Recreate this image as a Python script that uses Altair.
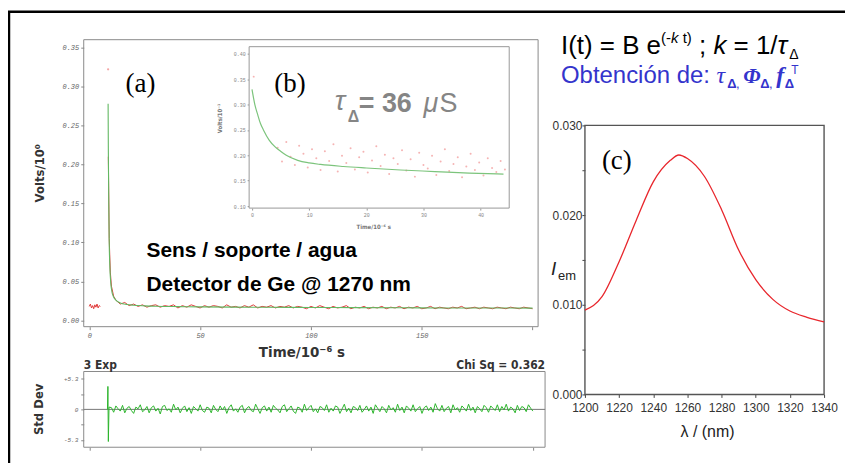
import altair as alt
import pandas as pd

W, H = 840, 455


def X(px):
    return px - 8


def Y(py):
    return py - 8


# ---------------- data ----------------
# (a) decay trace (experimental, red) and fit (green)
A_PRE_T = [0, 0.5, 1, 1.5, 2, 2.5, 3, 3.5, 4, 4.5, 5]
A_PRE_V = [0.018, 0.021, 0.016, 0.019, 0.015, 0.020, 0.017, 0.021, 0.016, 0.019, 0.018]
A_DOT_T = [8.5]
A_DOT_V = [0.322]
A_SPIKE_T = [8.6, 9.0, 9.5, 10, 11]
A_SPIKE_V = [0.21, 0.105, 0.062, 0.044, 0.031]
A_TAIL_T = list(range(12, 201, 2))
A_TAIL_V = [
    0.026, 0.021, 0.023, 0.019, 0.021, 0.018, 0.020, 0.017, 0.019, 0.020,
    0.017, 0.019, 0.018, 0.020, 0.016, 0.019, 0.017, 0.020, 0.018, 0.016,
    0.019, 0.017, 0.019, 0.018, 0.016, 0.020, 0.017, 0.018, 0.016, 0.019,
    0.017, 0.020, 0.016, 0.018, 0.017, 0.019, 0.016, 0.018, 0.017, 0.019,
    0.016, 0.018, 0.017, 0.015, 0.018, 0.016, 0.019, 0.017, 0.015, 0.018,
    0.016, 0.017, 0.019, 0.015, 0.017, 0.016, 0.018, 0.015, 0.017, 0.016,
    0.018, 0.015, 0.017, 0.016, 0.018, 0.015, 0.017, 0.016, 0.018, 0.015,
    0.016, 0.018, 0.015, 0.017, 0.016, 0.015, 0.017, 0.016, 0.018, 0.015,
    0.016, 0.017, 0.015, 0.017, 0.016, 0.015, 0.017, 0.016, 0.015, 0.017,
    0.016, 0.015, 0.017, 0.016, 0.015,
]
A_FIT_T = [8.5, 8.6, 8.8, 9.0, 9.3, 9.7, 10.2, 11, 12, 14, 17, 20, 25, 30,
           40, 50, 65, 80, 100, 120, 140, 160, 180, 200]
A_FIT_V = [0.278, 0.22, 0.15, 0.10, 0.068, 0.048, 0.037, 0.030, 0.026, 0.0225,
           0.0205, 0.0195, 0.0187, 0.0182, 0.0177, 0.0174, 0.0171, 0.0169,
           0.0166, 0.0164, 0.0162, 0.0160, 0.0159, 0.0158]

# residuals (Std Dev)
RES_SPIKE_T = [8.2, 8.4, 8.6, 8.9]
RES_SPIKE_V = [0.0, 4.0, -5.6, 0.4]
RES_T = list(range(10, 201, 1))
RES_V = [
    0.3, -0.5, 0.6, 0.1, -0.3, 0.7, -0.6, 0.2, 0.5, -0.2,
    -0.7, 0.4, 0.1, 0.8, -0.4, -0.1, 0.5, -0.6, 0.3, 0.6,
    -0.3, 0.2, -0.8, 0.5, 0.7, -0.2, 0.1, -0.5, 0.9, -0.1,
    0.4, -0.6, 0.2, 0.6, -0.4, 0.3, -0.7, 0.5, 0.1, -0.3,
    0.8, -0.2, -0.5, 0.4, 0.2, -0.6, 0.7, 0.0, -0.4, 0.6,
    -0.1, 0.5, -0.7, 0.3, 0.8, -0.3, 0.1, -0.5, 0.4, 0.7,
    -0.6, 0.2, 0.5, -0.2, -0.4, 0.9, 0.1, -0.7, 0.3, 0.6,
    -0.3, 0.4, -0.5, 0.7, 0.2, -0.1, -0.6, 0.5, 0.8, -0.4,
    0.1, 0.6, -0.3, -0.7, 0.4, 0.2, -0.5, 0.9, -0.2, 0.3,
    0.7, -0.4, 0.1, -0.6, 0.5, 0.3, -0.2, 0.8, -0.5, 0.2,
    -0.3, 0.6, 0.4, -0.7, 0.1, 0.9, -0.4, 0.2, -0.6, 0.5,
    0.3, -0.2, 0.7, -0.5, 0.0, 0.6, -0.3, 0.4, -0.7, 0.8,
    0.2, -0.4, 0.5, 0.1, -0.6, 0.7, -0.1, 0.3, -0.5, 0.9,
    -0.2, 0.4, -0.6, 0.6, 0.2, -0.3, 0.8, -0.4, 0.1, 0.5,
    -0.7, 0.3, 0.6, -0.2, 0.4, -0.5, 1.0, 0.1, -0.3, 0.7,
    -0.4, 0.2, 0.5, -0.6, 0.8, -0.1, 0.3, -0.5, 0.6, 0.2,
    -0.3, 0.9, -0.2, 0.4, -0.6, 0.5, 0.1, -0.4, 0.7, 0.3,
    -0.5, 0.6, 0.2, -0.2, 0.8, -0.4, 0.5, -0.1, 0.9, -0.3,
    0.4, 0.1, -0.6, 0.7, -0.2, 0.5, 0.3, -0.4, 0.8, 0.2,
    -0.3,
]

# (b) inset
B_FIT_T = [0, 0.5, 1, 1.5, 2, 3, 4, 5, 6, 8, 10, 12, 16, 20, 26, 32, 38, 44]
B_FIT_V = [0.33, 0.30, 0.28, 0.262, 0.25, 0.23, 0.217, 0.208, 0.20, 0.19,
           0.185, 0.182, 0.178, 0.175, 0.171, 0.168, 0.165, 0.163]
B_PTS_T = [0.3, 4.5, 5.25, 6, 6.75, 7.5, 8.25, 9, 9.75, 10.5, 11.25,
           12, 12.75, 13.5, 14.25, 15, 15.75, 16.5, 17.25, 18, 18.75,
           19.5, 20.25, 21, 21.75, 22.5, 23.25, 24, 24.75, 25.5, 26.25,
           27, 27.75, 28.5, 29.25, 30, 30.75, 31.5, 32.25, 33, 33.75,
           34.5, 35.25, 36, 36.75, 37.5, 38.25, 39, 39.75, 40.5, 41.25,
           42, 42.75, 43.5, 44.25]
B_PTS_V = [0.355,
           0.215, 0.188, 0.226, 0.197, 0.181, 0.219, 0.203, 0.176, 0.212, 0.194,
           0.171, 0.208, 0.189, 0.222, 0.168, 0.199, 0.185, 0.214, 0.172, 0.196,
           0.207, 0.166, 0.190, 0.218, 0.179, 0.201, 0.163, 0.194, 0.183, 0.210,
           0.170, 0.192, 0.158, 0.205, 0.181, 0.174, 0.199, 0.161, 0.188, 0.212,
           0.169, 0.183, 0.196, 0.157, 0.178, 0.203, 0.171, 0.186, 0.160, 0.194,
           0.175, 0.167, 0.189, 0.172]

# (c) emission spectrum
C_WL = [1200, 1210, 1220, 1230, 1240, 1250, 1255, 1260, 1270, 1280, 1290,
        1300, 1310, 1320, 1330, 1340]
C_I = [0.0094, 0.0109, 0.0148, 0.0194, 0.0237, 0.0261, 0.0267, 0.0263, 0.0243,
       0.0206, 0.0161, 0.0128, 0.0106, 0.0093, 0.0086, 0.0081]

A_XDOM = [-2.5, 202.5]
A_YDOM = [-0.008, 0.36]
R_XDOM = [-2.5, 205.5]
R_YDOM = [-6.6, 6.6]
B_XDOM = [-0.5, 45]
B_YDOM = [0.096, 0.414]
C_XDOM = [1200, 1340]
C_YDOM = [0, 0.030]

# ---------------- helpers ----------------
ONE = alt.Data(values=[{}])
SANS = "Liberation Sans, Arial, sans-serif"
SERIF = "Liberation Serif, Times New Roman, serif"
MONO = "Liberation Sans Narrow, DejaVu Sans Condensed, DejaVu Sans, sans-serif"
TICKF = "Liberation Mono, DejaVu Sans Mono, monospace"


def txt(s, x, y, size, color="black", font=SANS, weight="normal", style="normal",
        align="left", baseline="alphabetic", angle=0):
    return alt.Chart(ONE).mark_text(
        text=s, fontSize=size, color=color, font=font, fontWeight=weight,
        fontStyle=style, align=align, baseline=baseline, angle=angle,
    ).encode(x=alt.value(X(x)), y=alt.value(Y(y)))


CW = {" ": 0.278, "(": 0.333, ")": 0.333, "-": 0.333, ";": 0.278, ":": 0.278,
      ",": 0.278, "=": 0.584, "/": 0.278, "1": 0.556, "I": 0.278, "B": 0.667,
      "e": 0.556, "k": 0.5, "t": 0.278, "O": 0.778, "b": 0.556, "n": 0.556,
      "c": 0.5, "i": 0.222, "ó": 0.556, "d": 0.556, "τ": 0.45, "Δ": 0.668,
      "Φ": 0.78, "f": 0.36, "T": 0.611}


def wid(s, size):
    return sum(CW.get(c, 0.556) for c in s) * size


def flow(x0, pieces):
    out = []
    x = x0
    for p in pieces:
        s, size = p[0], p[1]
        kw = dict(p[2]) if len(p) > 2 else {}
        adv = kw.pop("adv", 1.0)
        core = s.strip(" ")
        lead = len(s) - len(s.lstrip(" "))
        out.append(txt(core, x + wid(" " * lead, size), kw.pop("y"), size, **kw))
        x += wid(s, size) * adv
    return out


def sc(dom, r):
    return alt.Scale(domain=dom, range=r, nice=False, zero=False)


# ---------------- panel (a) ----------------
a_xs = sc(A_XDOM, [X(84), X(540)])
a_ys = sc(A_YDOM, [Y(327), Y(39)])
a_xax = alt.Axis(orient="bottom", offset=Y(327) - H, values=[0, 50, 100, 150, 200],
                 labelExpr="datum.value < 200 ? datum.label : ''", title=None,
                 domain=False, tickColor="#888", tickSize=3, labelFont=TICKF,
                 labelFontSize=7, labelFontStyle="italic", labelColor="#666",
                 labelPadding=2, labelFlush=False)
a_yax = alt.Axis(orient="left", offset=-X(84), values=[0, 0.05, 0.1, 0.15, 0.2, 0.25, 0.3, 0.35],
                 format=".2f", title=None, domain=False, tickColor="#888", tickSize=3,
                 labelFont=TICKF, labelFontSize=7, labelFontStyle="italic",
                 labelColor="#666", labelPadding=2, labelFlush=False)


def AX(f):
    return alt.X(f, type="quantitative", scale=a_xs, axis=a_xax)


def AY(f):
    return alt.Y(f, type="quantitative", scale=a_ys, axis=a_yax)


df_a_frame = pd.DataFrame({"x0": [A_XDOM[0]], "x1": [A_XDOM[1]], "y0": [A_YDOM[0]], "y1": [A_YDOM[1]]})
df_a_red = pd.DataFrame({
    "t": A_PRE_T + A_SPIKE_T + A_TAIL_T,
    "v": A_PRE_V + A_SPIKE_V + A_TAIL_V,
    "seg": ["pre"] * len(A_PRE_T) + ["post"] * (len(A_SPIKE_T) + len(A_TAIL_T)),
})
df_a_dot = pd.DataFrame({"t": A_DOT_T, "v": A_DOT_V})
df_a_fit = pd.DataFrame({"t": A_FIT_T, "v": A_FIT_V})

a_frame = alt.Chart(df_a_frame).mark_rect(fillOpacity=0, stroke="#8a8a8a", strokeWidth=1).encode(
    x=AX("x0"), x2="x1", y=AY("y0"), y2="y1")
a_red = alt.Chart(df_a_red).mark_line(color="#e03a3a", strokeWidth=1).encode(
    x=AX("t"), y=AY("v"), detail="seg:N")
a_dot = alt.Chart(df_a_dot).mark_circle(color="#f08080", size=5).encode(x=AX("t"), y=AY("v"))
a_fit = alt.Chart(df_a_fit).mark_line(color="#62b862", strokeWidth=1.1, interpolate="monotone").encode(
    x=AX("t"), y=AY("v"))
panel_a = alt.layer(a_frame, a_red, a_dot, a_fit)

# ---------------- inset (b) ----------------
b_xs = sc(B_XDOM, [X(250), X(511)])
b_ys = sc(B_YDOM, [Y(208), Y(46)])
b_xax = alt.Axis(orient="bottom", offset=Y(208) - H, values=[0, 10, 20, 30, 40], title=None,
                 domain=False, tickColor="#999", tickSize=2, labelFont=TICKF, labelFontSize=5,
                 labelColor="#888", labelPadding=2, labelFlush=False)
b_yax = alt.Axis(orient="left", offset=-X(250), values=[0.10, 0.15, 0.20, 0.25, 0.30, 0.35, 0.40],
                 format=".2f", title=None, domain=False, tickColor="#999", tickSize=2,
                 labelFont=TICKF, labelFontSize=5, labelColor="#888", labelPadding=2,
                 labelFlush=False)


def BX(f):
    return alt.X(f, type="quantitative", scale=b_xs, axis=b_xax)


def BY(f):
    return alt.Y(f, type="quantitative", scale=b_ys, axis=b_yax)


df_b_frame = pd.DataFrame({"x0": [B_XDOM[0]], "x1": [B_XDOM[1]], "y0": [B_YDOM[0]], "y1": [B_YDOM[1]]})
df_b_pts = pd.DataFrame({"t": B_PTS_T, "v": B_PTS_V})
df_b_fit = pd.DataFrame({"t": B_FIT_T, "v": B_FIT_V})
b_frame = alt.Chart(df_b_frame).mark_rect(fill="white", stroke="#999", strokeWidth=1).encode(
    x=BX("x0"), x2="x1", y=BY("y0"), y2="y1")
b_pts = alt.Chart(df_b_pts).mark_circle(color="#f29a9a", size=4, opacity=0.75).encode(
    x=BX("t"), y=BY("v"))
b_fit = alt.Chart(df_b_fit).mark_line(color="#7cc47c", strokeWidth=1.2, interpolate="monotone").encode(
    x=BX("t"), y=BY("v"))
panel_b = alt.layer(b_frame, b_pts, b_fit)

# ---------------- residuals ----------------
r_xs = sc(R_XDOM, [X(84), X(547)])
r_ys = sc(R_YDOM, [Y(448), Y(372)])
r_xax = alt.Axis(orient="bottom", offset=Y(448) - H, values=[0, 50, 100, 150, 200], labels=False,
                 title=None, domain=False, tickColor="#888", tickSize=3)
r_yax = alt.Axis(orient="left", offset=-X(84), values=[-5.3, -2.65, 0, 2.65, 5.3],
                 labelExpr="datum.value == 0 ? '0' : (abs(datum.value) > 5 ? (datum.value > 0 ? '+5.3' : '-5.3') : '')",
                 title=None, domain=False, tickColor="#888", tickSize=3, labelFont=TICKF,
                 labelFontSize=6, labelFontStyle="italic", labelColor="#666", labelPadding=3,
                 labelFlush=False)


def RX(f):
    return alt.X(f, type="quantitative", scale=r_xs, axis=r_xax)


def RY(f):
    return alt.Y(f, type="quantitative", scale=r_ys, axis=r_yax)


df_r_frame = pd.DataFrame({"x0": [R_XDOM[0]], "x1": [R_XDOM[1]], "y0": [R_YDOM[0]], "y1": [R_YDOM[1]], "z": [0]})
df_r = pd.DataFrame({"t": RES_SPIKE_T + RES_T, "v": RES_SPIKE_V + RES_V})
r_frame = alt.Chart(df_r_frame).mark_rect(fillOpacity=0, stroke="#8a8a8a", strokeWidth=1).encode(
    x=RX("x0"), x2="x1", y=RY("y0"), y2="y1")
r_zero = alt.Chart(df_r_frame).mark_rule(color="#777", strokeWidth=1).encode(
    x=RX("x0"), x2="x1", y=RY("z"))
r_line = alt.Chart(df_r).mark_line(color="#2cb52c", strokeWidth=1).encode(x=RX("t"), y=RY("v"))
panel_r = alt.layer(r_frame, r_zero, r_line)

# ---------------- panel (c) ----------------
c_xs = sc(C_XDOM, [X(587), X(827)])
c_ys = sc(C_YDOM, [Y(395), Y(125)])
c_xax = alt.Axis(orient="bottom", offset=Y(395) - H, values=list(range(1200, 1341, 20)), format="d",
                 title=None, domain=False, tickColor="#444", tickSize=3, labelFont=SANS,
                 labelFontSize=12, labelColor="#333", labelPadding=5, labelFlush=False)
c_yax = alt.Axis(orient="left", offset=-X(587), values=[0, 0.005, 0.01, 0.015, 0.02, 0.025, 0.03],
                 labelExpr="round(datum.value * 1000) % 10 == 0 ? format(datum.value, '.3f') : ''",
                 title=None, domain=False, tickColor="#444", tickSize=3, labelFont=SANS,
                 labelFontSize=12, labelColor="#333", labelPadding=0, labelFlush=False)


def CX(f):
    return alt.X(f, type="quantitative", scale=c_xs, axis=c_xax)


def CY(f):
    return alt.Y(f, type="quantitative", scale=c_ys, axis=c_yax)


df_c_frame = pd.DataFrame({"x0": [C_XDOM[0]], "x1": [C_XDOM[1]], "y0": [C_YDOM[0]], "y1": [C_YDOM[1]]})
df_c = pd.DataFrame({"wl": C_WL, "i": C_I})
c_frame = alt.Chart(df_c_frame).mark_rect(fillOpacity=0, stroke="#555", strokeWidth=1.4).encode(
    x=CX("x0"), x2="x1", y=CY("y0"), y2="y1")
c_line = alt.Chart(df_c).mark_line(color="#e8262c", strokeWidth=1.3, interpolate="monotone").encode(
    x=CX("wl"), y=CY("i"))
panel_c = alt.layer(c_frame, c_line)

# ---------------- annotations ----------------
frame = alt.Chart(ONE).mark_rect(fillOpacity=0, stroke="black", strokeWidth=2.5).encode(
    x=alt.value(X(9)), x2=alt.value(W + 30), y=alt.value(Y(11)), y2=alt.value(H + 30))

GRAY = "#858585"
texts = [
    txt("(a)", 141, 83, 27, font=SERIF, align="center", baseline="middle"),
    txt("(b)", 291, 83, 27, font=SERIF, align="center", baseline="middle"),
    txt("(c)", 619, 161, 27, font=SERIF, align="center", baseline="middle"),
    txt("τ", 336, 110, 28, color=GRAY, style="italic"),
    txt("Δ", 349, 122, 16, color=GRAY, weight="bold"),
    txt("= 36", 360, 112, 27, color=GRAY, weight="bold"),
    txt("μ", 425, 112, 27, color=GRAY, style="italic"),
    txt("S", 441, 112, 27, color=GRAY),
    txt("Sens / soporte / agua", 147, 257, 21, weight="bold"),
    txt("Detector de Ge @ 1270 nm", 147, 291, 21, weight="bold"),
    txt("Volts/10⁰", 40, 173, 13, font=MONO, weight="bold", color="#333",
        align="center", baseline="middle", angle=270),
    txt("Time/10⁻⁶ s", 303, 352, 15, font=MONO, weight="bold", color="#333",
        align="center", baseline="middle"),
    txt("3 Exp", 84, 369, 12, font=MONO, weight="bold", color="#333"),
    txt("Chi Sq = 0.362", 547, 369, 12, font=MONO, weight="bold", color="#333", align="right"),
    txt("Std Dev", 39, 410, 13, font=MONO, weight="bold", color="#333",
        align="center", baseline="middle", angle=270),
    txt("Volts/10⁻¹", 221, 118, 6, font=MONO, weight="bold", color="#777",
        align="center", baseline="middle", angle=270),
    txt("Time/10⁻⁶ s", 375, 227, 6, font=MONO, weight="bold", color="#777",
        align="center", baseline="middle"),
    txt("λ / (nm)", 710, 433, 16, color="#222", align="center", baseline="middle"),
    txt("I", 553, 275, 19, color="#222", style="italic"),
    txt("em", 560, 280, 13, color="#222"),
]

BLUE = "#3434cc"
line1 = flow(563, [
    ("I(t) = B e", 26, {"y": 53}),
    ("(-", 15, {"y": 42}),
    ("k", 15, {"y": 42, "style": "italic"}),
    (" t)", 15, {"y": 42}),
    (" ; ", 26, {"y": 53}),
    ("k", 26, {"y": 53, "style": "italic"}),
    (" = 1/", 26, {"y": 53}),
    ("τ", 26, {"y": 53, "style": "italic"}),
    ("Δ", 14, {"y": 58}),
])
line2 = flow(563, [
    ("Obtención de: ", 24, {"y": 82, "color": BLUE}),
    ("τ", 24, {"y": 82, "color": BLUE, "style": "italic", "font": SERIF}),
    ("Δ", 13, {"y": 87, "color": BLUE, "weight": "bold"}),
    (", ", 13, {"y": 87, "color": BLUE}),
    ("Φ", 22, {"y": 82, "color": BLUE, "style": "italic", "weight": "bold", "font": SERIF}),
    ("Δ", 13, {"y": 87, "color": BLUE, "weight": "bold"}),
    (", ", 13, {"y": 87, "color": BLUE}),
    ("f", 24, {"y": 82, "color": BLUE, "style": "italic", "weight": "bold", "font": SERIF}),
    ("Δ", 13, {"y": 87, "color": BLUE, "weight": "bold", "adv": 0.75}),
    ("T", 12, {"y": 73, "color": BLUE}),
])

chart = alt.layer(
    panel_a, panel_b, panel_r, panel_c, frame, *texts, *line1, *line2
).resolve_scale(x="independent", y="independent").properties(
    width=W, height=H, padding=0, autosize=alt.AutoSizeParams(type="none"),
    background="white",
).configure_view(stroke=None).configure_axis(grid=False)

chart.save("out.html", embed_options={"renderer": "svg", "actions": False})
